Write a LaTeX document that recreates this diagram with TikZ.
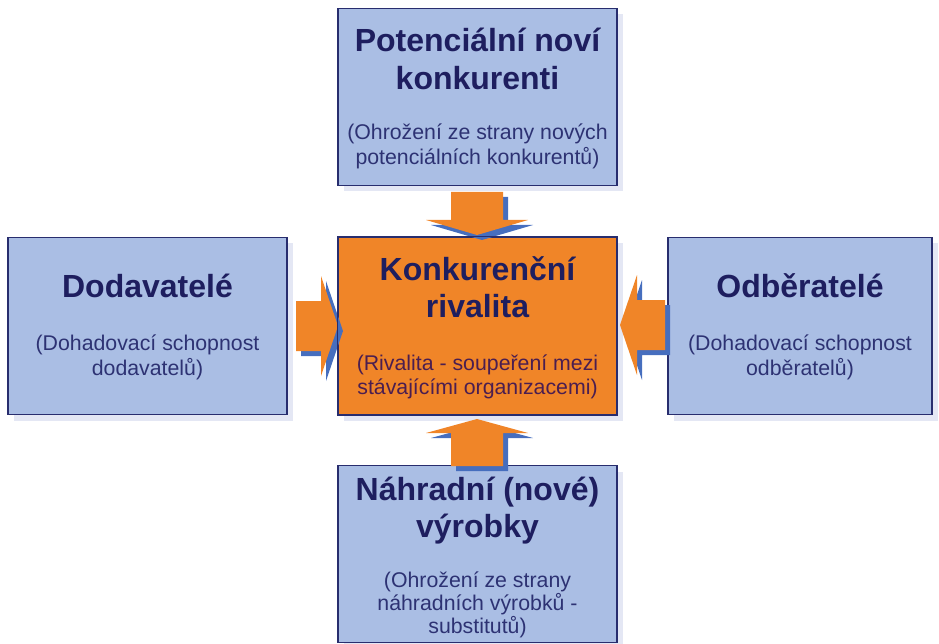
\documentclass[tikz,border=0pt]{standalone}
\usepackage{fontspec}
\setmainfont{Liberation Sans}
\definecolor{boxblue}{RGB}{170,190,228}
\definecolor{boxline}{RGB}{40,45,110}
\definecolor{orng}{RGB}{240,133,40}
\definecolor{arrshadow}{RGB}{70,110,190}
\definecolor{boxshadow}{RGB}{228,231,244}
\definecolor{titlecol}{RGB}{30,30,95}
\definecolor{subcol}{RGB}{45,50,115}
\definecolor{csubcol}{RGB}{75,30,80}
\tikzset{
  bbox/.style={draw=boxline, line width=1.2pt, fill=boxblue, minimum width=279pt, minimum height=177pt, inner sep=0pt},
  obox/.style={bbox, fill=orng},
  shad/.style={fill=boxshadow, draw=none, minimum width=279pt, minimum height=177pt, inner sep=0pt},
  ttl/.style={anchor=base, inner sep=0pt, text=titlecol, font=\fontsize{32}{38}\selectfont\bfseries},
  sub/.style={anchor=base, inner sep=0pt, text=subcol, font=\fontsize{21.3}{25}\selectfont},
  csub/.style={sub, text=csubcol},
  arr/.style={fill=orng, draw=none},
  arrs/.style={fill=arrshadow, draw=none},
}
\begin{document}
\begin{tikzpicture}[x=1pt,y=-1pt]
\useasboundingbox (0,0) rectangle (939,644);
% shadows of boxes
\node[shad] (s1) at (483.5,103) {};
\node[shad] (s2) at (483.5,332) {};
\node[shad] (s3) at (153.5,332) {};
\node[shad, minimum width=264pt] (s4) at (806,332) {};
\node[shad] (s5) at (483.5,560) {};
% boxes
\node[bbox] (top) at (477.5,97) {};
\node[obox] (ctr) at (477.5,326) {};
\node[bbox] (lft) at (147.5,326) {};
\node[bbox, minimum width=264pt] (rgt) at (800,326) {};
\node[bbox] (bot) at (477.5,554) {};
% arrow shadows
\begin{scope}[shift={(5,5)}]
\fill[arrs] (451,192) -- (503,192) -- (503,220) -- (528,220) -- (477,235) -- (426,220) -- (451,220) -- cycle;
\fill[arrs] (451,466) -- (503,466) -- (503,433) -- (528,433) -- (477,419) -- (426,433) -- (451,433) -- cycle;
\fill[arrs] (296,301) -- (296,351) -- (321,351) -- (321,376) -- (338,326) -- (321,276) -- (321,301) -- cycle;
\fill[arrs] (665,300) -- (665,350) -- (637,350) -- (637,375) -- (620,325) -- (637,275) -- (637,300) -- cycle;
\end{scope}
% arrows
\fill[arr] (451,192) -- (503,192) -- (503,220) -- (528,220) -- (477,235) -- (426,220) -- (451,220) -- cycle;
\fill[arr] (451,466) -- (503,466) -- (503,433) -- (528,433) -- (477,419) -- (426,433) -- (451,433) -- cycle;
\fill[arr] (296,301) -- (296,351) -- (321,351) -- (321,376) -- (338,326) -- (321,276) -- (321,301) -- cycle;
\fill[arr] (665,300) -- (665,350) -- (637,350) -- (637,375) -- (620,325) -- (637,275) -- (637,300) -- cycle;
% redraw box borders over arrow tips
\draw[boxline, line width=1.2pt] (ctr.north west) rectangle (ctr.south east);
% texts: top
\node[ttl] (t1) at (477.5,52) {Potenciální noví};
\node[ttl] (t2) at (477.5,90) {konkurenti};
\node[sub] (t3) at (477.5,140) {(Ohrožení ze strany nových};
\node[sub] (t4) at (477.5,165) {potenciálních konkurentů)};
% center
\node[ttl] (c1) at (477.5,280) {Konkurenční};
\node[ttl] (c2) at (477.5,317) {rivalita};
\node[csub] (c3) at (477.5,370) {(Rivalita - soupeření mezi};
\node[csub] (c4) at (477.5,394) {stávajícími organizacemi)};
% left
\node[ttl] (l1) at (147.5,298) {Dodavatelé};
\node[sub] (l2) at (147.5,350) {(Dohadovací schopnost};
\node[sub] (l3) at (147.5,375) {dodavatelů)};
% right
\node[ttl] (r1) at (800,298) {Odběratelé};
\node[sub] (r2) at (800,350) {(Dohadovací schopnost};
\node[sub] (r3) at (800,375) {odběratelů)};
% bottom
\node[ttl] (b1) at (477.5,500) {Náhradní (nové)};
\node[ttl] (b2) at (477.5,537) {výrobky};
\node[sub] (b3) at (477.5,587) {(Ohrožení ze strany};
\node[sub] (b4) at (477.5,610) {náhradních výrobků -};
\node[sub] (b5) at (477.5,633) {substitutů)};
\end{tikzpicture}
\end{document}
